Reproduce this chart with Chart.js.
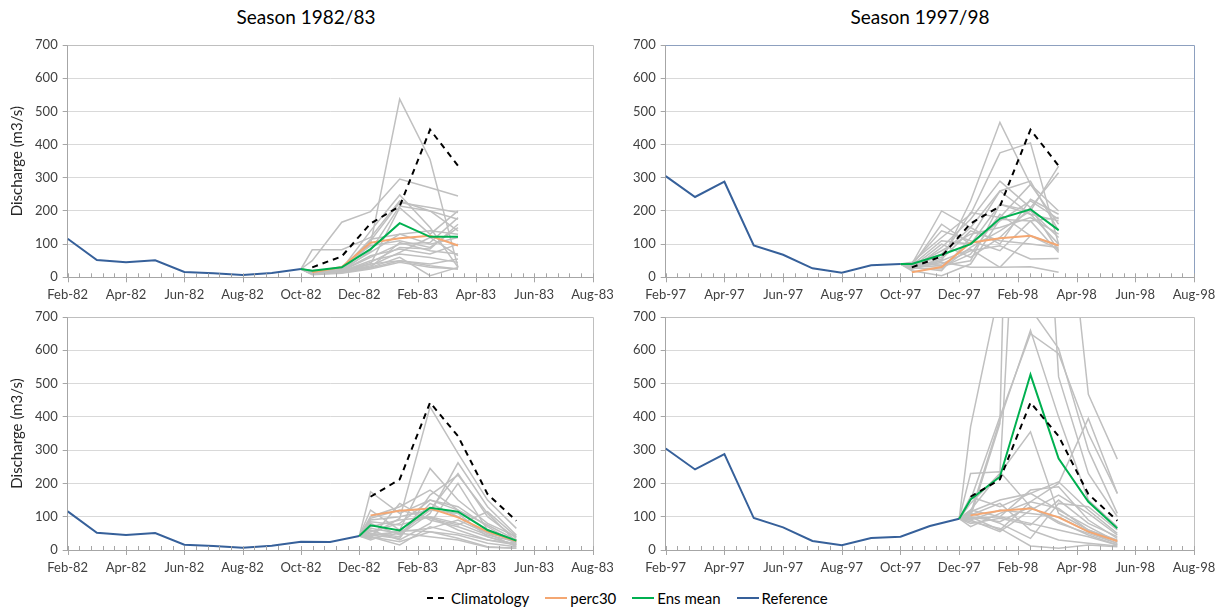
<!DOCTYPE html>
<html>
<head>
<meta charset="utf-8">
<script src="https://cdn.jsdelivr.net/npm/chart.js@4.4.1/dist/chart.umd.min.js"></script>
<style>
  html, body { margin: 0; padding: 0; background: #fff; }
  body { width: 1216px; height: 608px; position: relative; overflow: hidden; font-family: Lato, sans-serif; }
  .panel { position: absolute; }
  .title { position: absolute; top: 5px; width: 300px; text-align: center; font-size: 19px; line-height: 24px; color: #000; }
  #legend { position: absolute; top: 588px; left: 426px; height: 20px; display: flex; align-items: center; font-size: 15px; color: #000; }
  #legend .item { display: flex; align-items: center; margin-right: 16px; }
  #legend svg { margin-right: 3px; }
</style>
</head>
<body>
<div class="title" style="left:156px">Season 1982/83</div>
<div class="title" style="left:770px">Season 1997/98</div>

<div class="panel" style="left:0;top:30px"><canvas id="c82a" width="625" height="280"></canvas></div>
<div class="panel" style="left:600px;top:30px"><canvas id="c97a" width="616" height="280"></canvas></div>
<div class="panel" style="left:0;top:302px"><canvas id="c82b" width="625" height="280"></canvas></div>
<div class="panel" style="left:600px;top:302px"><canvas id="c97b" width="616" height="280"></canvas></div>

<div id="legend">
  <div class="item"><svg width="22" height="4"><line x1="1" y1="2" x2="22" y2="2" stroke="#000" stroke-width="2" stroke-dasharray="6,5"/></svg>Climatology</div>
  <div class="item"><svg width="22" height="4"><line x1="0" y1="2" x2="22" y2="2" stroke="#f4a772" stroke-width="2"/></svg>perc30</div>
  <div class="item"><svg width="22" height="4"><line x1="0" y1="2" x2="22" y2="2" stroke="#00b050" stroke-width="2"/></svg>Ens mean</div>
  <div class="item"><svg width="22" height="4"><line x1="0" y1="2" x2="22" y2="2" stroke="#36609a" stroke-width="2"/></svg>Reference</div>
</div>

<script>
// ---- data ----
const ticks82 = ['Feb-82', 'Apr-82', 'Jun-82', 'Aug-82', 'Oct-82', 'Dec-82', 'Feb-83', 'Apr-83', 'Jun-83', 'Aug-83'];
const ticks97 = ['Feb-97', 'Apr-97', 'Jun-97', 'Aug-97', 'Oct-97', 'Dec-97', 'Feb-98', 'Apr-98', 'Jun-98', 'Aug-98'];

// observed discharge, first of month
const refMonths82 = ['1982-02', '1982-03', '1982-04', '1982-05', '1982-06', '1982-07', '1982-08', '1982-09', '1982-10', '1982-11', '1982-12'];
const refFlow82 = [116, 52, 45, 51, 16, 12, 7, 13, 25, 24, 42];
const refMonths97 = ['1997-02', '1997-03', '1997-04', '1997-05', '1997-06', '1997-07', '1997-08', '1997-09', '1997-10', '1997-11', '1997-12'];
const refFlow97 = [305, 242, 288, 96, 68, 27, 14, 36, 40, 72, 94];

// forecasts are valid around the 13th of each month
const fcDay = 13;
const fcMonths82a = ['1982-10', '1982-11', '1982-12', '1983-01', '1983-02', '1983-03'];
const fcMonths82b = ['1982-12', '1983-01', '1983-02', '1983-03', '1983-04', '1983-05'];
const fcMonths97a = ['1997-10', '1997-11', '1997-12', '1998-01', '1998-02', '1998-03'];
const fcMonths97b = ['1997-12', '1998-01', '1998-02', '1998-03', '1998-04', '1998-05'];

const climOct = [30, 63, 162, 214, 445, 336];
const climDec = [160, 212, 443, 342, 168, 88];
const perc30Oct = [15, 31, 104, 118, 125, 96];
const perc30Dec = [104, 118, 125, 98, 55, 27];

const ens82a = [20, 30, 85, 163, 122, 122];
const ens82b = [74, 59, 127, 115, 60, 28];
const ens97a = [40, 68, 100, 177, 205, 142];
const ens97b = [152, 220, 527, 275, 145, 65];

const members82a = [
  [15, 20, 100, 537, 355, 30],
  [50, 166, 198, 296, 270, 245],
  [83, 83, 120, 230, 200, 140],
  [20, 25, 140, 248, 150, 30],
  [18, 22, 110, 225, 210, 195],
  [12, 18, 80, 215, 200, 175],
  [10, 15, 40, 210, 130, 200],
  [20, 25, 115, 130, 140, 130],
  [15, 20, 60, 100, 105, 180],
  [10, 18, 45, 90, 85, 160],
  [12, 15, 35, 75, 120, 65],
  [15, 20, 30, 105, 80, 70],
  [10, 14, 28, 50, 40, 55],
  [8, 12, 25, 45, 30, 25],
  [12, 18, 50, 70, 60, 45],
  [18, 25, 75, 130, 100, 120],
  [10, 15, 30, 60, 5, 30],
  [14, 20, 65, 85, 70, 100],
  [16, 30, 95, 110, 90, 150],
  [12, 20, 40, 50, 35, 25]
];
const members82b = [
  [45, 95, 430, 290, 150, 65],
  [175, 110, 150, 120, 60, 30],
  [120, 60, 245, 150, 80, 40],
  [80, 45, 110, 262, 130, 45],
  [90, 100, 120, 230, 100, 35],
  [45, 35, 165, 225, 110, 25],
  [100, 130, 180, 120, 75, 30],
  [60, 30, 80, 200, 60, 20],
  [35, 140, 90, 70, 40, 15],
  [40, 15, 70, 50, 30, 20],
  [30, 60, 55, 35, 10, 5],
  [85, 75, 100, 80, 45, 25],
  [50, 40, 140, 100, 50, 10],
  [40, 25, 55, 45, 20, 10],
  [70, 90, 100, 60, 30, 15],
  [35, 50, 40, 30, 8, 5],
  [95, 120, 95, 75, 115, 40],
  [55, 80, 150, 130, 70, 20],
  [45, 55, 65, 90, 50, 30],
  [65, 50, 120, 110, 40, 15]
];
const members97a = [
  [30, 50, 230, 467, 280, 160],
  [45, 120, 190, 375, 405, 100],
  [40, 200, 150, 260, 290, 140],
  [35, 160, 100, 220, 200, 335],
  [25, 90, 175, 290, 210, 315],
  [40, 60, 195, 180, 280, 200],
  [30, 20, 120, 260, 190, 170],
  [35, 70, 150, 100, 235, 190],
  [20, 5, 40, 175, 170, 180],
  [38, 40, 80, 95, 55, 57],
  [25, 45, 30, 30, 32, 15],
  [30, 100, 60, 120, 210, 80],
  [40, 140, 110, 80, 170, 75],
  [35, 30, 70, 190, 125, 95],
  [28, 25, 90, 140, 200, 120],
  [33, 80, 130, 150, 180, 130],
  [42, 35, 50, 220, 190, 100],
  [30, 55, 140, 110, 100, 90],
  [36, 110, 100, 170, 230, 175],
  [25, 50, 85, 30, 125, 85]
];
const members97b = [
  [370, 790, 725, 605, 300, 110],
  [110, 390, 660, 400, 150, 70],
  [150, 400, 650, 590, 350, 170],
  [100, 380, 4000, 1300, 468, 273],
  [120, 230, 1900, 520, 230, 100],
  [230, 235, 130, 80, 50, 20],
  [140, 230, 355, 110, 60, 30],
  [160, 130, 170, 205, 120, 50],
  [100, 60, 145, 200, 395, 170],
  [90, 55, 120, 165, 110, 45],
  [110, 80, 35, 140, 130, 60],
  [70, 110, 145, 125, 60, 25],
  [95, 100, 80, 60, 40, 15],
  [85, 65, 12, 5, 15, 10],
  [105, 140, 60, 30, 20, 12],
  [120, 100, 180, 190, 90, 35],
  [90, 120, 110, 100, 55, 20],
  [100, 85, 130, 85, 45, 15],
  [80, 95, 75, 150, 80, 40],
  [115, 150, 170, 120, 70, 25]
];

// ---- helpers ----
Chart.defaults.font.family = 'Lato, sans-serif';
Chart.defaults.color = '#404040';
Chart.defaults.animation = false;

// months since Feb of the first season year
function monthPos(ym, baseYear, day) {
  const [y, m] = ym.split('-').map(Number);
  const dim = new Date(y, m, 0).getDate();
  return (y - baseYear) * 12 + (m - 2) + (day - 1) / dim;
}
function series(months, values, baseYear, day) {
  return values.map((v, i) => ({ x: monthPos(months[i], baseYear, day), y: v }));
}

const frameAndTicks = {
  id: 'frameAndTicks',
  afterDraw(chart, args, opts) {
    const { ctx, chartArea: a, scales: { x } } = chart;
    ctx.save();
    ctx.lineWidth = 1;
    ctx.strokeStyle = opts.frame;
    ctx.beginPath();
    ctx.moveTo(a.left, Math.round(a.top) + 0.5);
    ctx.lineTo(Math.round(a.right) + 0.5, Math.round(a.top) + 0.5);
    ctx.lineTo(Math.round(a.right) + 0.5, a.bottom);
    ctx.stroke();
    ctx.strokeStyle = '#a6a6a6';
    ctx.beginPath();
    x.ticks.forEach(t => {
      const px = Math.round(x.getPixelForValue(t.value)) + 0.5;
      const major = Math.abs(t.value / 2 - Math.round(t.value / 2)) < 1e-6;
      ctx.moveTo(px, a.bottom - 4);
      ctx.lineTo(px, a.bottom + (major ? 5 : 0));
    });
    ctx.stroke();
    ctx.restore();
  }
};

function makePanel(id, p) {
  const nRef = p.refCount;
  const refPts = series(p.refMonths.slice(0, nRef), p.refFlow.slice(0, nRef), p.base, 1);
  const start = refPts[refPts.length - 1];
  const fc = vals => series(p.fcMonths, vals, p.base, fcDay);

  const datasets = [
    { label: 'Climatology', data: fc(p.clim), borderColor: '#000', borderWidth: 2, borderDash: [6, 5] },
    { label: 'Ens mean', data: [start].concat(fc(p.ens)), borderColor: '#00b050', borderWidth: 2 },
    { label: 'perc30', data: fc(p.perc), borderColor: '#f4a772', borderWidth: 2 },
    { label: 'Reference', data: refPts, borderColor: '#36609a', borderWidth: 2 }
  ];
  p.members.forEach((m, i) => datasets.push({
    label: 'member ' + (i + 1), data: [start].concat(fc(m)), borderColor: '#c0c0c0', borderWidth: 1.5
  }));

  new Chart(document.getElementById(id), {
    type: 'line',
    data: { datasets },
    options: {
      responsive: false,
      layout: { padding: { top: 15, right: p.padRight, left: 0, bottom: 0 } },
      elements: { point: { radius: 0 }, line: { tension: 0, fill: false } },
      plugins: {
        legend: { display: false },
        tooltip: { enabled: false },
        frameAndTicks: { frame: p.frame }
      },
      scales: {
        x: {
          type: 'linear', min: 0, max: 18,
          grid: { display: false, drawTicks: false },
          border: { display: true, color: '#a6a6a6' },
          ticks: {
            stepSize: 0.4, autoSkip: false, maxRotation: 0, padding: 10,
            font: { size: 13 }, color: '#404040',
            callback: v => {
              const h = v / 2;
              return Math.abs(h - Math.round(h)) < 1e-6 ? p.labels[Math.round(h)] : '';
            }
          },
          afterFit: s => { s.height = p.xHeight; s.paddingLeft = 0; s.paddingRight = 0; }
        },
        y: {
          min: 0, max: 700,
          grid: { color: '#d9d9d9', tickLength: 5, tickColor: '#a6a6a6' },
          border: { color: '#a6a6a6' },
          ticks: { stepSize: 100, padding: 5, font: { size: 13 }, color: '#404040' },
          title: { display: p.yTitle, text: 'Discharge (m3/s)', font: { size: 15 }, color: '#262626', padding: { top: 8, bottom: 0 } },
          afterFit: s => { s.width = p.yWidth; }
        }
      }
    },
    plugins: [frameAndTicks]
  });
}

makePanel('c82a', {
  base: 1982, refMonths: refMonths82, refFlow: refFlow82, refCount: 9,
  fcMonths: fcMonths82a, clim: climOct, perc: perc30Oct, ens: ens82a, members: members82a,
  labels: ticks82, yTitle: true, yWidth: 67.7, padRight: 32.5, xHeight: 32.7, frame: '#bfbfbf'
});
makePanel('c97a', {
  base: 1997, refMonths: refMonths97, refFlow: refFlow97, refCount: 9,
  fcMonths: fcMonths97a, clim: climOct, perc: perc30Oct, ens: ens97a, members: members97a,
  labels: ticks97, yTitle: false, yWidth: 65.7, padRight: 22, xHeight: 32.7, frame: '#8da0bf'
});
makePanel('c82b', {
  base: 1982, refMonths: refMonths82, refFlow: refFlow82, refCount: 11,
  fcMonths: fcMonths82b, clim: climDec, perc: perc30Dec, ens: ens82b, members: members82b,
  labels: ticks82, yTitle: true, yWidth: 67.7, padRight: 32.5, xHeight: 32, frame: '#bfbfbf'
});
makePanel('c97b', {
  base: 1997, refMonths: refMonths97, refFlow: refFlow97, refCount: 11,
  fcMonths: fcMonths97b, clim: climDec, perc: perc30Dec, ens: ens97b, members: members97b,
  labels: ticks97, yTitle: false, yWidth: 65.7, padRight: 22, xHeight: 32, frame: '#bfbfbf'
});
</script>
</body>
</html>
